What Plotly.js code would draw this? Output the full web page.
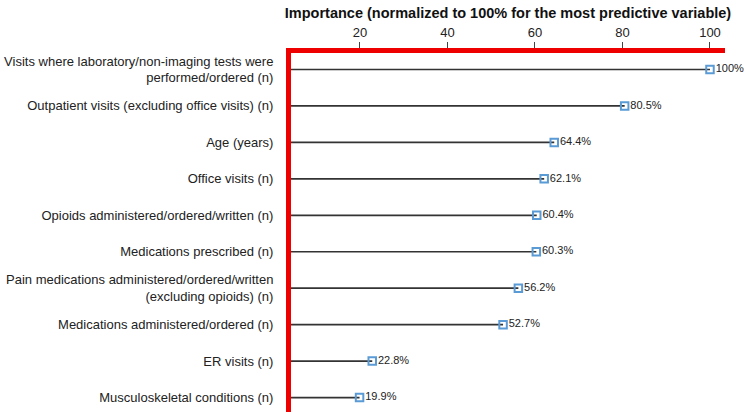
<!DOCTYPE html>
<html><head><meta charset="utf-8">
<script src="https://cdn.plot.ly/plotly-3.0.1.min.js"></script>
<style>body{margin:0;background:#fff}#c{width:744px;height:412px}</style>
</head><body><div id="c"></div>
<script>
const categories = [
  "Visits where laboratory/non-imaging tests were<br>performed/ordered (n)",
  "Outpatient visits (excluding office visits) (n)",
  "Age (years)",
  "Office visits (n)",
  "Opioids administered/ordered/written (n)",
  "Medications prescribed (n)",
  "Pain medications administered/ordered/written<br>(excluding opioids) (n)",
  "Medications administered/ordered (n)",
  "ER visits (n)",
  "Musculoskeletal conditions (n)"
];
const values = [100, 80.5, 64.4, 62.1, 60.4, 60.3, 56.2, 52.7, 22.8, 19.9];
const labels = ["100%", "80.5%", "64.4%", "62.1%", "60.4%", "60.3%", "56.2%", "52.7%", "22.8%", "19.9%"];
const xTicks = [20, 40, 60, 80, 100];

const xRange = [4.23, 103.43];
const idx = categories.map((_, i) => i);

const lx = [], ly = [];
values.forEach((v, i) => { lx.push(xRange[0], v, null); ly.push(i, i, null); });

const data = [
  {type: 'scatter', mode: 'lines', x: lx, y: ly, line: {color: '#333', width: 1.7},
   hoverinfo: 'skip', showlegend: false, cliponaxis: false},
  {type: 'scatter', mode: 'markers+text', x: values, y: idx, text: labels,
   textposition: 'middle right', textfont: {family: 'Liberation Sans, Arial', size: 11, color: '#222'},
   marker: {symbol: 'square-open', size: 7.5, color: '#5b9bd5', line: {width: 2, color: '#5b9bd5'}},
   showlegend: false, cliponaxis: false}
];

const layout = {
  width: 744, height: 412,
  margin: {l: 291, r: 19, t: 52.5, b: 0},
  paper_bgcolor: '#fff', plot_bgcolor: '#fff',
  font: {family: 'Liberation Sans, Arial', color: '#222'},
  xaxis: {
    side: 'top', range: xRange, tickvals: xTicks, ticktext: xTicks.map(String),
    showgrid: false, zeroline: false,
    showline: true, linecolor: '#ee0000', linewidth: 5,
    ticks: 'outside', ticklen: 6, tickcolor: '#444', tickwidth: 1,
    tickfont: {size: 13, color: '#222'},
    title: {text: '<b>Importance (normalized to 100% for the most predictive variable)</b>',
            font: {size: 14.5, color: '#111'}, standoff: 4}
  },
  yaxis: {
    range: [9.397, -0.452], tickvals: idx, ticktext: categories,
    showgrid: false, zeroline: false,
    showline: true, linecolor: '#ee0000', linewidth: 5,
    ticks: '', ticklabelstandoff: 10,
    tickfont: {size: 13, color: '#222'}
  }
};
Plotly.newPlot('c', data, layout, {displayModeBar: false, staticPlot: true});
</script></body></html>
